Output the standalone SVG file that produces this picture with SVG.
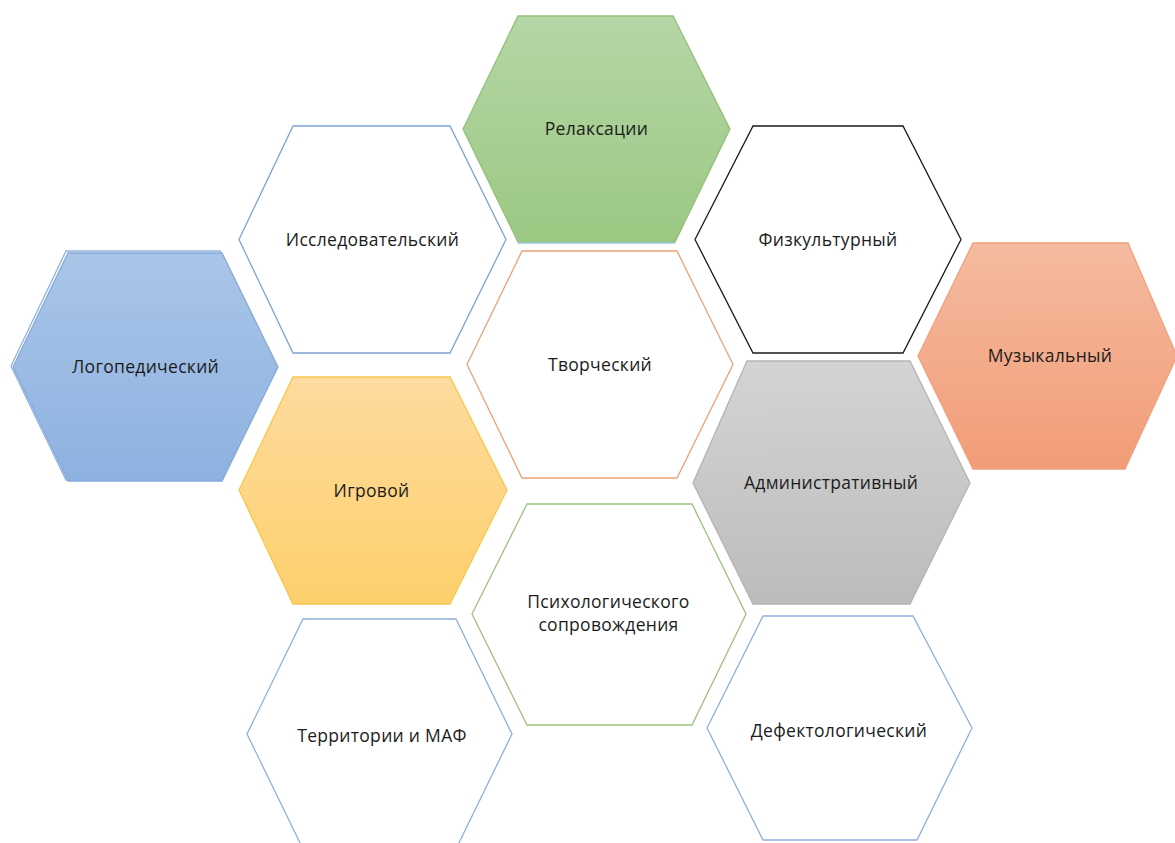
<svg xmlns="http://www.w3.org/2000/svg" width="1175" height="843" viewBox="0 0 1175 843">
<defs>
<linearGradient id="gBlue" x1="0" y1="0" x2="0" y2="1"><stop offset="0" stop-color="#aac5e8"/><stop offset="1" stop-color="#8db2e0"/></linearGradient>
<linearGradient id="gGreen" x1="0" y1="0" x2="0" y2="1"><stop offset="0" stop-color="#b6d6a5"/><stop offset="1" stop-color="#9bc883"/></linearGradient>
<linearGradient id="gOrange" x1="0" y1="0" x2="0" y2="1"><stop offset="0" stop-color="#f5bb9f"/><stop offset="1" stop-color="#f29c78"/></linearGradient>
<linearGradient id="gGray" x1="0" y1="0" x2="0" y2="1"><stop offset="0" stop-color="#d4d4d4"/><stop offset="1" stop-color="#bcbcbc"/></linearGradient>
<linearGradient id="gYellow" x1="0" y1="0" x2="0" y2="1"><stop offset="0" stop-color="#fedb9f"/><stop offset="1" stop-color="#fdd06c"/></linearGradient>
</defs>
<style>
.lbl{font-family:"Open Sans","Noto Sans","DejaVu Sans",sans-serif;font-size:17.5px;letter-spacing:0.3px;fill:#1c1c1c;text-anchor:middle}
.hex{stroke-width:1.3;stroke-linejoin:miter}
</style>
<rect width="1175" height="843" fill="#ffffff"/>
<g id="connectors"/>
<g id="n-logoped">
<polygon class="hex" points="11,366 66,251 220,251 276,366 220,480 66,480" fill="none" stroke="#8fb2de"/>
<polygon class="hex" points="13,367 68,253 222,253 278,367 222,481 68,481" fill="url(#gBlue)" stroke="#86a9da"/>
<text class="lbl" x="145.5" y="373">Логопедический</text>
</g>
<g id="n-issled">
<polygon class="hex" points="239,239.5 293,126 450,126 506,239.5 450,353 293,353" fill="#ffffff" stroke="#7da3d6"/>
<text class="lbl" x="372.5" y="245.5">Исследовательский</text>
</g>
<g id="n-relax">
<polygon class="hex" points="463,129 518,16 673,16 730,129 675,242 518,242" fill="url(#gGreen)" stroke="#93c17a"/>
<line x1="518" y1="243" x2="675" y2="243" stroke="#9cc9d6" stroke-width="1.3"/>
<text class="lbl" x="596.5" y="134.5">Релаксации</text>
</g>
<g id="n-fizk">
<polygon class="hex" points="695,239.5 753,126 903,126 961,239.5 903,353 753,353" fill="#ffffff" stroke="#1a1a1a" stroke-width="1.6"/>
<text class="lbl" x="828" y="246">Физкультурный</text>
</g>
<g id="n-muz">
<polygon class="hex" points="918,356 973,243 1128,243 1177,356 1125,469 973,469" fill="url(#gOrange)" stroke="#f0a07f"/>
<text class="lbl" x="1050" y="361.5">Музыкальный</text>
</g>
<g id="n-tvor">
<polygon class="hex" points="467,364.5 522,251 677,251 733,364.5 677,478 522,478" fill="#ffffff" stroke="#f0a272"/>
<text class="lbl" x="600" y="371">Творческий</text>
</g>
<g id="n-igr">
<polygon class="hex" points="239,490 293,377 450,377 507,490 450,604 293,604" fill="url(#gYellow)" stroke="#f5c84c"/>
<text class="lbl" x="371.5" y="497">Игровой</text>
</g>
<g id="n-admin">
<polygon class="hex" points="693,483 747,361 910,361 970,483 910,604 753,604" fill="url(#gGray)" stroke="#b4b4b4"/>
<text class="lbl" x="831" y="488.5">Административный</text>
</g>
<g id="n-psych">
<polygon class="hex" points="472,614 527,504 692,504 746,614 692,725 527,725" fill="#ffffff" stroke="#9cc27c"/>
<text class="lbl" x="608.5" y="608">Психологического</text>
<text class="lbl" x="608.5" y="631">сопровождения</text>
</g>
<g id="n-terr">
<polygon class="hex" points="247,734 303,619 456,619 512,734 456,849 303,849" fill="#ffffff" stroke="#8fb0dc"/>
<text class="lbl" x="382" y="742">Территории и МАФ</text>
</g>
<g id="n-defekt">
<polygon class="hex" points="707,728 763,616 913,616 972,728 917,840 763,840" fill="#ffffff" stroke="#8fb0dc"/>
<text class="lbl" x="839" y="737">Дефектологический</text>
</g>
</svg>
